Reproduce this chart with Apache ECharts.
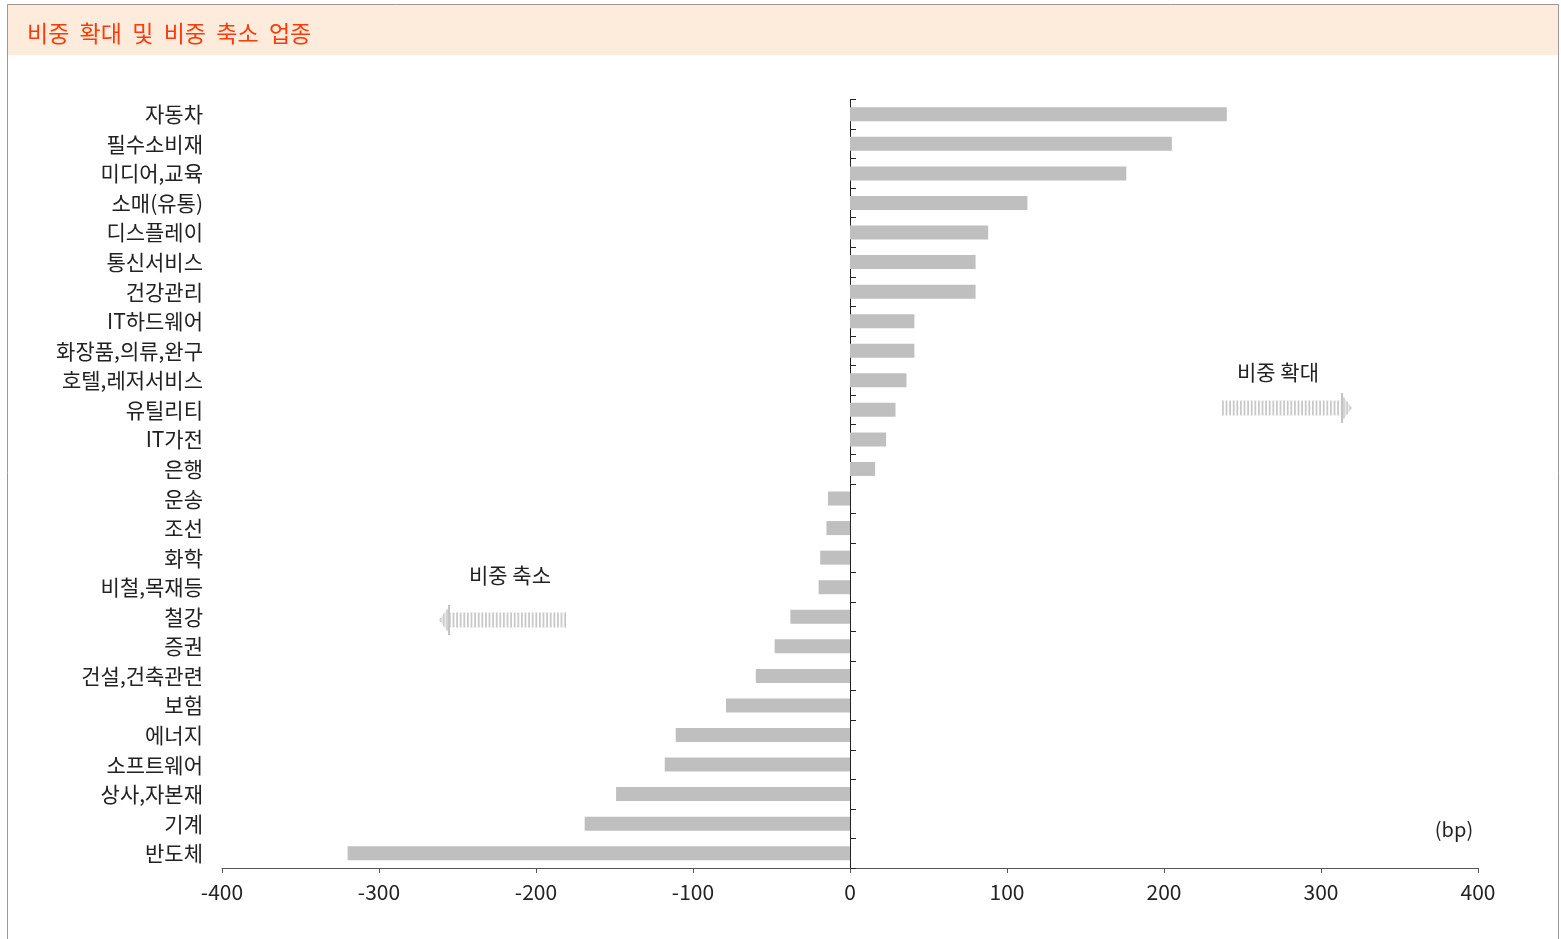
<!DOCTYPE html>
<html><head><meta charset="utf-8">
<script src="https://cdn.jsdelivr.net/npm/echarts@6/dist/echarts.min.js"></script>
<style>html,body{margin:0;padding:0;background:#fff;}#c{width:1561px;height:939px;}</style>
</head><body><div id="c"></div>
<script>
const categories = ['자동차','필수소비재','미디어,교육','소매(유통)','디스플레이','통신서비스','건강관리','IT하드웨어','화장품,의류,완구','호텔,레저서비스','유틸리티','IT가전','은행','운송','조선','화학','비철,목재등','철강','증권','건설,건축관련','보험','에너지','소프트웨어','상사,자본재','기계','반도체'];
const values = [240,205,176,113,88,80,80,41,41,36,29,23,16,-14,-15,-19,-20,-38,-48,-60,-79,-111,-118,-149,-169,-320];
const xTicks = [-400,-300,-200,-100,0,100,200,300,400];
const titleText = '비중  확대  및  비중  축소  업종';
const upText = '비중 확대';
const downText = '비중 축소';
const unitText = '(bp)';

const FONT = '"Noto Sans CJK KR", "Noto Sans", sans-serif';
const chart = echarts.init(document.getElementById('c'));

function stripedArrow(x0, x1, yc, dir) {
  const els = [];
  const lo = Math.min(x0, x1), hi = Math.max(x0, x1);
  for (let x = lo; x < hi; x += 3.6) {
    els.push({type:'rect', shape:{x:x, y:yc-7.5, width:1.8, height:15}, style:{fill:'#c9c9c9'}, silent:true});
  }
  const baseX = dir > 0 ? hi : lo;
  const tipX = baseX + dir * 10;
  els.push({type:'polygon', shape:{points:[[baseX, yc-13],[tipX, yc],[baseX, yc+13]]}, style:{fill:'#e6e6e6'}, silent:true});
  for (let k = 0; k < 3; k++) {
    const xx = baseX + dir * (2 + k * 3.2);
    const h = 13 * (1 - (2 + k * 3.2) / 10);
    els.push({type:'rect', shape:{x:xx-0.8, y:yc-h, width:1.6, height:2*h}, style:{fill:'#cfcfcf'}, silent:true});
  }
  els.push({type:'rect', shape:{x:baseX-1, y:yc-15, width:2, height:30}, style:{fill:'#c4c4c4'}, silent:true});
  return els;
}

const option = {
  animation: false,
  backgroundColor: '#fff',
  textStyle: {fontFamily: FONT},
  grid: {left: 222, right: 83, top: 99.5, bottom: 71, containLabel: false},
  xAxis: {
    type: 'value', min: xTicks[0], max: xTicks[xTicks.length-1], interval: 100,
    axisLine: {show: true, lineStyle: {color: '#555', width: 1}},
    axisTick: {show: true, length: 5, lineStyle: {color: '#555'}},
    axisLabel: {fontSize: 21, color: '#222', margin: 14, fontFamily: FONT},
    splitLine: {show: false}
  },
  yAxis: [
    {
      type: 'category', data: categories, inverse: true, position: 'left',
      axisLine: {show: false, onZero: false}, axisTick: {show: false},
      axisLabel: {fontSize: 21, color: '#222', margin: 19, fontFamily: FONT}
    },
    {
      type: 'category', data: categories, inverse: true,
      axisLine: {show: true, onZero: true, lineStyle: {color: '#222', width: 1}},
      axisTick: {show: true, inside: false, length: 6, lineStyle: {color: '#222'}},
      axisLabel: {show: false}
    }
  ],
  series: [{
    type: 'bar', yAxisIndex: 0, data: values, barWidth: 14,
    itemStyle: {color: '#bfbfbf'}
  }],
  graphic: [
    {type:'rect', shape:{x:7.5, y:4.5, width:1551, height:940}, style:{fill:'none', stroke:'#999', lineWidth:1}, silent:true, z:-1},
    {type:'rect', shape:{x:8, y:5, width:1550, height:50}, style:{fill:'#fdecdc'}, silent:true, z:-1},
    {type:'text', x:27, y:33, style:{text:titleText, fill:'#ff3a0a', font:'23px ' + FONT, verticalAlign:'middle'}},
    {type:'text', x:1278, y:372, style:{text:upText, fill:'#222', font:'21px ' + FONT, align:'center', verticalAlign:'middle'}},
    {type:'text', x:510, y:575, style:{text:downText, fill:'#222', font:'21px ' + FONT, align:'center', verticalAlign:'middle'}},
    {type:'text', x:1454, y:829, style:{text:unitText, fill:'#222', font:'20px ' + FONT, align:'center', verticalAlign:'middle'}},
    {type:'group', children: stripedArrow(1222, 1342, 408, 1)},
    {type:'group', children: stripedArrow(449, 567, 620, -1)}
  ]
};
chart.setOption(option);
</script></body></html>
